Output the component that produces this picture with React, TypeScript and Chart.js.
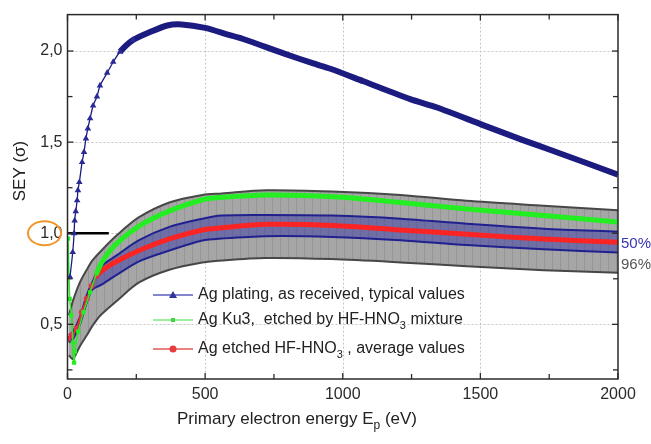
import React, { useEffect, useRef } from "react";
import { Chart, registerables } from "chart.js";

Chart.register(...registerables);

// ---------- data ----------
const X_TICKS = [0, 500, 1000, 1500, 2000];
const X_MINOR = [250, 750, 1250, 1750];
const Y_TICKS = [0.5, 1.0, 1.5, 2.0];
const Y_MINOR = [0.25, 0.75, 1.25, 1.75];

// Ag plating, as received, typical values
const plateE = [9, 19, 24, 26, 30, 35, 38, 43, 53, 60, 67, 74, 82, 93, 107, 118, 144, 166, 191, 238, 300, 362, 415, 500, 579, 638, 785, 893, 955, 1075, 1245, 1343, 1512, 1657, 1755, 2000];
const plateSEY = [0.76, 0.896, 1.0, 1.07, 1.12, 1.18, 1.235, 1.28, 1.39, 1.446, 1.52, 1.575, 1.63, 1.7, 1.75, 1.81, 1.88, 1.94, 1.996, 2.06, 2.104, 2.14, 2.146, 2.127, 2.092, 2.066, 1.987, 1.932, 1.903, 1.834, 1.736, 1.69, 1.592, 1.51, 1.457, 1.322];

// Ag Ku3, etched by HF-HNO3 mixture
const ku3E = [2, 8, 14, 20, 24, 27, 39, 58, 82, 106, 130, 179, 264, 373, 490, 554, 724, 967, 1209, 1452, 1730, 2000];
const ku3SEY = [0.97, 0.64, 0.55, 0.4, 0.29, 0.35, 0.46, 0.567, 0.675, 0.78, 0.854, 0.944, 1.043, 1.124, 1.184, 1.196, 1.21, 1.2, 1.169, 1.133, 1.097, 1.061];

// Ag etched HF-HNO3, average values
const avgE = [3, 15, 33, 52, 70, 88, 106, 130, 179, 264, 373, 490, 554, 724, 967, 1209, 1452, 1730, 2000];
const avgSEY = [0.42, 0.44, 0.477, 0.567, 0.64, 0.71, 0.765, 0.8, 0.846, 0.908, 0.97, 1.018, 1.029, 1.049, 1.043, 1.018, 0.995, 0.968, 0.95];

// confidence bands (50 % and 96 %)
const bandE = [5, 20, 45, 70, 90, 120, 180, 260, 370, 490, 560, 720, 960, 1210, 1450, 1730, 2000];
const band50Hi = [0.44, 0.46, 0.54, 0.66, 0.73, 0.815, 0.88, 0.962, 1.035, 1.08, 1.097, 1.1, 1.097, 1.08, 1.052, 1.025, 1.008];
const band50Lo = [0.4, 0.42, 0.5, 0.62, 0.69, 0.715, 0.773, 0.846, 0.905, 0.96, 0.971, 0.984, 0.98, 0.962, 0.935, 0.912, 0.894];
const band96Hi = [0.55, 0.63, 0.73, 0.8, 0.85, 0.9, 0.99, 1.088, 1.169, 1.21, 1.218, 1.236, 1.229, 1.21, 1.178, 1.151, 1.126];
const band96Lo = [0.33, 0.31, 0.38, 0.44, 0.49, 0.55, 0.63, 0.73, 0.8, 0.84, 0.851, 0.864, 0.858, 0.84, 0.819, 0.797, 0.783];

// unity guide line
const unityE = [0, 150];
const unitySEY = [1.0, 1.0];

const LEGEND_LABELS = [
  "Ag plating, as received, typical values",
  "Ag Ku3,  etched by HF-HNO_3 mixture",
  "Ag etched HF-HNO_3 , average values",
];
const BAND_LABELS = ["50%", "96%"];
const X_TITLE = "Primary electron energy E_p (eV)";
const Y_TITLE = "SEY (\u03c3)";

const FONT = '"Liberation Sans", Arial, Helvetica, sans-serif';

const pts = (xs: number[], ys: number[]) => xs.map((x, i) => ({ x, y: ys[i] }));

function stripePattern(base: string, stripe: string, period: number): CanvasPattern | string {
  const c = document.createElement("canvas");
  c.width = period;
  c.height = 4;
  const g = c.getContext("2d");
  if (!g) return base;
  g.fillStyle = base;
  g.fillRect(0, 0, period, 4);
  g.fillStyle = stripe;
  g.fillRect(0, 0, 1, 4);
  return g.createPattern(c, "repeat") || base;
}

// draw a string containing "_x" subscripts; returns width
function drawRich(ctx: CanvasRenderingContext2D, text: string, x: number, y: number, size: number, measureOnly = false) {
  const parts: { t: string; sub: boolean }[] = [];
  const re = /_(\w)/g;
  let last = 0;
  let m: RegExpExecArray | null;
  while ((m = re.exec(text))) {
    if (m.index > last) parts.push({ t: text.slice(last, m.index), sub: false });
    parts.push({ t: m[1], sub: true });
    last = m.index + m[0].length;
  }
  if (last < text.length) parts.push({ t: text.slice(last), sub: false });
  let cx = x;
  for (const p of parts) {
    const fs = p.sub ? Math.round(size * 0.68) : size;
    ctx.font = `${fs}px ${FONT}`;
    const w = ctx.measureText(p.t).width;
    if (!measureOnly) ctx.fillText(p.t, cx, p.sub ? y + size * 0.38 : y);
    cx += w;
  }
  return cx - x;
}

const decor = {
  id: "decor",
  beforeDatasetsDraw(chart: any) {
    const { ctx, chartArea: a, scales } = chart;
    const x = scales.x, y = scales.y;
    ctx.save();
    ctx.strokeStyle = "#c4c4c4";
    ctx.lineWidth = 1;
    ctx.setLineDash([2, 2]);
    for (const v of X_TICKS.slice(1, -1)) {
      const px = Math.round(x.getPixelForValue(v)) + 0.5;
      ctx.beginPath(); ctx.moveTo(px, a.top); ctx.lineTo(px, a.bottom); ctx.stroke();
    }
    for (const v of Y_TICKS) {
      const py = Math.round(y.getPixelForValue(v)) + 0.5;
      ctx.beginPath(); ctx.moveTo(a.left, py); ctx.lineTo(a.right, py); ctx.stroke();
    }
    ctx.restore();
  },
  afterDatasetsDraw(chart: any) {
    const { ctx, chartArea: a, scales } = chart;
    const x = scales.x, y = scales.y;
    ctx.save();
    // frame
    ctx.strokeStyle = "#2a2a2a";
    ctx.lineWidth = 1.5;
    ctx.strokeRect(a.left, a.top, a.right - a.left, a.bottom - a.top);
    // inward ticks
    ctx.lineWidth = 1.3;
    const tickX = (vals: number[], len: number) => {
      for (const v of vals) {
        const px = x.getPixelForValue(v);
        ctx.beginPath(); ctx.moveTo(px, a.bottom); ctx.lineTo(px, a.bottom - len); ctx.stroke();
        ctx.beginPath(); ctx.moveTo(px, a.top); ctx.lineTo(px, a.top + len); ctx.stroke();
      }
    };
    const tickY = (vals: number[], len: number) => {
      for (const v of vals) {
        const py = y.getPixelForValue(v);
        ctx.beginPath(); ctx.moveTo(a.left, py); ctx.lineTo(a.left + len, py); ctx.stroke();
        ctx.beginPath(); ctx.moveTo(a.right, py); ctx.lineTo(a.right - len, py); ctx.stroke();
      }
    };
    tickX(X_TICKS, 6); tickX(X_MINOR, 5);
    tickY(Y_TICKS, 6); tickY(Y_MINOR, 5);

    // band labels at right
    ctx.textAlign = "left";
    ctx.textBaseline = "middle";
    ctx.font = `15px ${FONT}`;
    ctx.fillStyle = "#3434b4";
    ctx.fillText(BAND_LABELS[0], a.right + 3, y.getPixelForValue(band50Lo[band50Lo.length - 1]) - 9);
    ctx.fillStyle = "#555";
    ctx.fillText(BAND_LABELS[1], a.right + 3, y.getPixelForValue(band96Lo[band96Lo.length - 1]) - 8);

    // orange ellipse round the 1,0 label
    ctx.strokeStyle = "#f0962a";
    ctx.lineWidth = 2;
    ctx.beginPath();
    ctx.ellipse(a.left - 23, y.getPixelForValue(1.0), 16.5, 12, 0, 0, Math.PI * 2);
    ctx.stroke();

    // axis titles
    ctx.fillStyle = "#222";
    ctx.textBaseline = "middle";
    ctx.font = `17px ${FONT}`;
    const wx = drawRich(ctx, X_TITLE, 0, 0, 17, true);
    drawRich(ctx, X_TITLE, 297 - wx / 2, 419, 17);
    ctx.save();
    ctx.translate(20, 171);
    ctx.rotate(-Math.PI / 2);
    ctx.textAlign = "center";
    ctx.font = `17px ${FONT}`;
    ctx.fillText(Y_TITLE, 0, 0);
    ctx.restore();

    // legend
    const rows = [
      { y: 295, line: "#5c5cbc", mark: "#33339c", kind: "tri" },
      { y: 320, line: "#7ee87e", mark: "#3ed63e", kind: "sq" },
      { y: 349, line: "#e25a5a", mark: "#e83c3c", kind: "circ" },
    ];
    rows.forEach((r, i) => {
      ctx.strokeStyle = r.line;
      ctx.lineWidth = 1.5;
      ctx.beginPath(); ctx.moveTo(153, r.y); ctx.lineTo(193, r.y); ctx.stroke();
      ctx.fillStyle = r.mark;
      ctx.beginPath();
      if (r.kind === "tri") {
        ctx.moveTo(173, r.y - 4); ctx.lineTo(177, r.y + 3); ctx.lineTo(169, r.y + 3); ctx.closePath();
      } else if (r.kind === "sq") {
        ctx.rect(171, r.y - 2, 4, 4);
      } else {
        ctx.arc(173, r.y, 3.5, 0, Math.PI * 2);
      }
      ctx.fill();
      ctx.fillStyle = "#222";
      ctx.textAlign = "left";
      drawRich(ctx, LEGEND_LABELS[i], 198, r.y, 16);
    });
    ctx.restore();
  },
};

export default function App() {
  const ref = useRef<HTMLCanvasElement>(null);
  useEffect(() => {
    if (!ref.current) return;
    const grayFill = stripePattern("#a6a6a6", "#969696", 8);
    const blueFill = stripePattern("#6f6fa6", "#66669e", 8);
    const chart = new Chart(ref.current, {
      type: "line",
      data: {
        datasets: [
          {
            label: "96% high",
            data: pts(bandE, band96Hi),
            borderColor: "#474747",
            borderWidth: 2,
            backgroundColor: grayFill as any,
            fill: "+1",
            pointRadius: 0,
            tension: 0.3,
            order: 20,
          },
          {
            label: "96% low",
            data: pts(bandE, band96Lo),
            borderColor: "#474747",
            borderWidth: 2,
            fill: false,
            pointRadius: 0,
            tension: 0.3,
            order: 19,
          },
          {
            label: "50% high",
            data: pts(bandE, band50Hi),
            borderColor: "#20208e",
            borderWidth: 2,
            backgroundColor: blueFill as any,
            fill: "+1",
            pointRadius: 0,
            tension: 0.3,
            order: 15,
          },
          {
            label: "50% low",
            data: pts(bandE, band50Lo),
            borderColor: "#20208e",
            borderWidth: 2,
            fill: false,
            pointRadius: 0,
            tension: 0.3,
            order: 14,
          },
          {
            label: "Ag etched HF-HNO3, average values",
            data: pts(avgE, avgSEY),
            borderColor: "#fa2424",
            backgroundColor: "#e0304a",
            borderWidth: 5,
            segment: { borderWidth: (c: any) => (c.p1.parsed.x <= 106 ? 2 : 5) },
            pointStyle: "circle",
            pointRadius: (c: any) => (c.raw && c.raw.x <= 106 ? 3 : 0),
            pointBorderWidth: 0,
            tension: 0.3,
            order: 6,
          },
          {
            label: "Ag Ku3, etched by HF-HNO3 mixture",
            data: pts(ku3E, ku3SEY),
            borderColor: "#22ee22",
            backgroundColor: "#22ee22",
            borderWidth: 5,
            segment: { borderWidth: (c: any) => (c.p1.parsed.x <= 106 ? 1.5 : 5) },
            pointStyle: "rect",
            pointRadius: (c: any) => (c.raw && c.raw.x <= 106 ? 3 : 0),
            pointBorderWidth: 0,
            tension: 0.3,
            order: 5,
          },
          {
            label: "unity",
            data: pts(unityE, unitySEY),
            borderColor: "#000",
            borderWidth: 2.5,
            pointRadius: 0,
            order: 2,
          },
          {
            label: "Ag plating, as received, typical values",
            data: pts(plateE, plateSEY),
            borderColor: "#1c1c80",
            backgroundColor: "#2a2a96",
            borderWidth: 5,
            segment: { borderWidth: (c: any) => (c.p1.parsed.x <= 191 ? 1.3 : 6) },
            pointStyle: "triangle",
            pointRadius: (c: any) => (c.raw && c.raw.x <= 238 ? 3.8 : 0),
            pointBorderWidth: 0,
            tension: 0.25,
            order: 1,
          },
        ],
      },
      options: {
        responsive: true,
        maintainAspectRatio: false,
        animation: false,
        layout: { padding: { left: 0, right: 33, top: 7, bottom: 0 } },
        plugins: { legend: { display: false }, tooltip: { enabled: false } },
        scales: {
          x: {
            type: "linear",
            min: 0,
            max: 2000,
            afterBuildTicks: (s: any) => { s.ticks = X_TICKS.map((v) => ({ value: v })); },
            afterFit: (s: any) => { s.height = 65; },
            grid: { display: false, drawTicks: false },
            border: { display: false },
            ticks: {
              padding: 6,
              color: "#2a2a2a",
              font: { size: 16, family: FONT },
              maxRotation: 0,
              callback: (v: any) => String(v),
            },
          },
          y: {
            type: "linear",
            min: 0.2,
            max: 2.2,
            afterBuildTicks: (s: any) => { s.ticks = Y_TICKS.map((v) => ({ value: v })); },
            afterFit: (s: any) => { s.width = 67.5; },
            grid: { display: false, drawTicks: false },
            border: { display: false },
            ticks: {
              padding: 5,
              color: "#2a2a2a",
              font: { size: 16, family: FONT },
              callback: (v: any) => Number(v).toFixed(1).replace(".", ","),
            },
          },
        },
      },
      plugins: [decor],
    });
    return () => chart.destroy();
  }, []);
  return (
    <div style={{ position: "fixed", left: 0, top: 0, width: 651, height: 444, background: "#fff" }}>
      <canvas ref={ref} />
    </div>
  );
}
